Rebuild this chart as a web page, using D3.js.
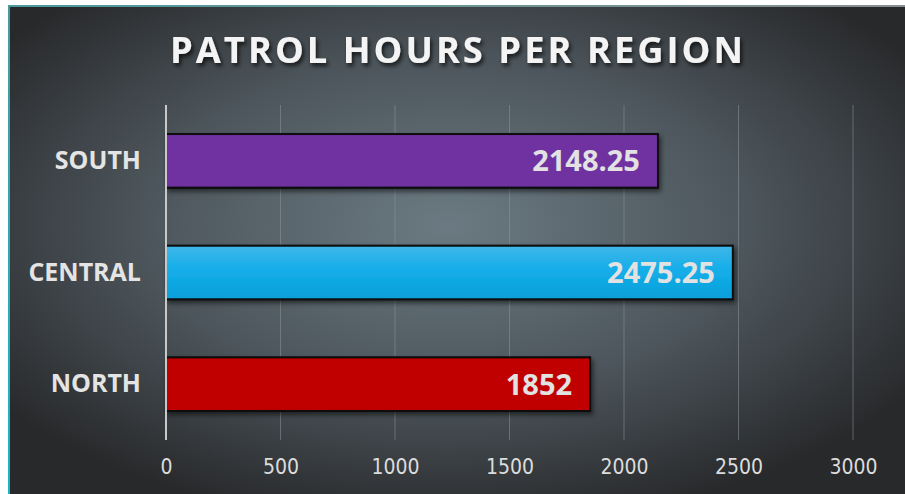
<!DOCTYPE html>
<html>
<head>
<meta charset="utf-8">
<script src="https://cdn.jsdelivr.net/npm/d3@7"></script>
<style>
  html, body { margin: 0; padding: 0; background: #ffffff; }
  svg { display: block; }
</style>
</head>
<body>
<svg id="chart" width="905" height="494"></svg>
<script>
// chart data
const regions = ['SOUTH', 'CENTRAL', 'NORTH'];
const hours = [2148.25, 2475.25, 1852];
const barColors = ['#7030a0', '#12aee8', '#c00000'];
const tickValues = [0, 500, 1000, 1500, 2000, 2500, 3000];

const width = 905;
const height = 494;
const margin = {top: 105, right: 52, bottom: 54, left: 166};

const svg = d3.select('#chart');
const defs = svg.append('defs');

// panel background
let bg = defs.append('radialGradient')
    .attr('id', 'bg')
    .attr('cx', '49%').attr('cy', '45%').attr('r', '62%');
bg.append('stop').attr('offset', '0%').attr('stop-color', '#6b7a82');
bg.append('stop').attr('offset', '55%').attr('stop-color', '#4c555b');
bg.append('stop').attr('offset', '100%').attr('stop-color', '#28292b');

let topEdge = defs.append('linearGradient').attr('id', 'topEdge');
topEdge.append('stop').attr('offset', '0%').attr('stop-color', '#4a9a9c');
topEdge.append('stop').attr('offset', '100%').attr('stop-color', '#8a8e90');

let leftEdge = defs.append('linearGradient').attr('id', 'leftEdge')
    .attr('x1', 0).attr('y1', 0).attr('x2', 0).attr('y2', 1);
leftEdge.append('stop').attr('offset', '0%').attr('stop-color', '#4a9a9c');
leftEdge.append('stop').attr('offset', '100%').attr('stop-color', '#19b6c8');

let blue = defs.append('linearGradient').attr('id', 'blueBar')
    .attr('x1', 0).attr('y1', 0).attr('x2', 0).attr('y2', 1);
blue.append('stop').attr('offset', '0%').attr('stop-color', '#40b6e8');
blue.append('stop').attr('offset', '45%').attr('stop-color', '#14aeea');
blue.append('stop').attr('offset', '100%').attr('stop-color', '#0a9fd8');

let shadow = defs.append('filter').attr('id', 'shadow')
    .attr('x', '-5%').attr('y', '-20%').attr('width', '115%').attr('height', '160%');
shadow.append('feDropShadow')
    .attr('dx', 2).attr('dy', 3).attr('stdDeviation', 2.5)
    .attr('flood-color', '#000').attr('flood-opacity', 0.55);

let titleShadow = defs.append('filter').attr('id', 'titleShadow');
titleShadow.append('feDropShadow')
    .attr('dx', 2).attr('dy', 3).attr('stdDeviation', 2)
    .attr('flood-color', '#000').attr('flood-opacity', 0.7);

svg.append('rect')
    .attr('x', 8).attr('y', 5)
    .attr('width', width - 8).attr('height', height - 5)
    .attr('fill', 'url(#bg)');
svg.append('rect')
    .attr('x', 8).attr('y', 5).attr('width', width - 8).attr('height', 2)
    .attr('fill', 'url(#topEdge)');
svg.append('rect')
    .attr('x', 8).attr('y', 5).attr('width', 2).attr('height', height - 5)
    .attr('fill', 'url(#leftEdge)');

// title
svg.append('text')
    .attr('x', 458)
    .attr('y', 63)
    .attr('text-anchor', 'middle')
    .attr('font-family', 'Open Sans, sans-serif')
    .attr('font-weight', 700)
    .attr('font-size', 36)
    .attr('letter-spacing', 3)
    .attr('textLength', 576)
    .attr('lengthAdjust', 'spacingAndGlyphs')
    .attr('fill', '#f4f4f4')
    .attr('filter', 'url(#titleShadow)')
    .text('PATROL HOURS PER REGION');

// scales
let x = d3.scaleLinear()
    .domain([0, 3000])
    .range([margin.left, width - margin.right]);

let y = d3.scaleBand()
    .domain(regions)
    .range([margin.top, height - margin.bottom])
    .paddingInner(0.52)
    .paddingOuter(0.26);

// gridlines
svg.append('g')
    .selectAll('line')
    .data(tickValues.slice(1))
    .enter().append('line')
    .attr('x1', function(d) { return x(d); })
    .attr('x2', function(d) { return x(d); })
    .attr('y1', margin.top)
    .attr('y2', height - margin.bottom)
    .attr('stroke', '#8a9499')
    .attr('stroke-opacity', 0.55)
    .attr('stroke-width', 1);

// x axis labels
let xAxis = d3.axisBottom(x)
    .tickValues(tickValues)
    .tickSize(0)
    .tickPadding(0)
    .tickFormat(d3.format('d'));

let gx = svg.append('g')
    .attr('transform', 'translate(0,' + (height - margin.bottom) + ')')
    .call(xAxis);
gx.select('.domain').remove();
gx.selectAll('text')
    .attr('dy', 34)
    .attr('font-family', 'Liberation Sans Narrow, DejaVu Sans Condensed, sans-serif')
    .attr('font-size', 21)
    .attr('fill', '#dcdcdc');

// bars
svg.append('g')
    .selectAll('rect')
    .data(hours)
    .enter().append('rect')
    .attr('x', x(0))
    .attr('y', function(d, i) { return y(regions[i]); })
    .attr('width', function(d) { return x(d) - x(0); })
    .attr('height', y.bandwidth())
    .attr('fill', function(d, i) {
        return regions[i] === 'CENTRAL' ? 'url(#blueBar)' : barColors[i];
    })
    .attr('stroke', '#0a0a0a')
    .attr('stroke-width', 2)
    .attr('filter', 'url(#shadow)');

// y axis line
svg.append('line')
    .attr('x1', x(0)).attr('x2', x(0))
    .attr('y1', margin.top).attr('y2', height - margin.bottom)
    .attr('stroke', '#c8c8c8')
    .attr('stroke-width', 2);

// category labels
let yAxis = d3.axisLeft(y).tickSize(0).tickPadding(25);
let gy = svg.append('g')
    .attr('transform', 'translate(' + x(0) + ',0)')
    .call(yAxis);
gy.select('.domain').remove();
gy.selectAll('text')
    .attr('font-family', 'Open Sans, sans-serif')
    .attr('font-weight', 700)
    .attr('font-size', 25)
    .attr('fill', '#e4e4e4');

// value labels
svg.append('g')
    .selectAll('text')
    .data(hours)
    .enter().append('text')
    .attr('x', function(d) { return x(d) - 18; })
    .attr('y', function(d, i) { return y(regions[i]) + y.bandwidth() / 2; })
    .attr('dy', '0.36em')
    .attr('text-anchor', 'end')
    .attr('font-family', 'Open Sans, sans-serif')
    .attr('font-weight', 700)
    .attr('font-size', 29)
    .attr('fill', '#e2e2e2')
    .text(function(d) { return d; });
</script>
</body>
</html>
